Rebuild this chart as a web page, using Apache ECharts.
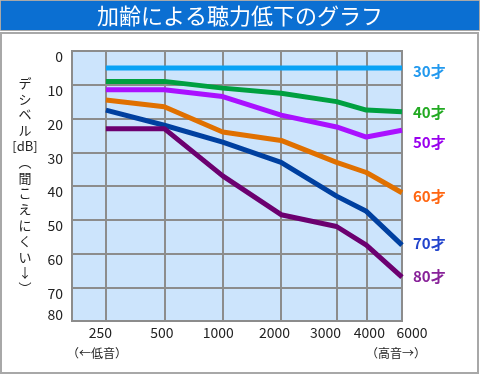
<!DOCTYPE html>
<html><head><meta charset="utf-8">
<script src="https://cdn.jsdelivr.net/npm/echarts@6/dist/echarts.min.js"></script>
<style>html,body{margin:0;padding:0;background:#fff}#c{width:480px;height:375px}</style>
</head><body><div id="c"></div>
<script>
// ---- data ----
const chartTitle = '加齢による聴力低下のグラフ';
const yAxisName = ['デ','シ','ベ','ル','[dB]','︵','聞','こ','え','に','く','い','↓','︶'];
const lowNote = '（←低音）';
const highNote = '（高音→）';
const freqLabels = ['250', '500', '1000', '2000', '3000', '4000', '6000'];
// the original axis is drawn with non-uniform spacing; these are axis units, one unit = one octave 250→2000
const freqAxisPos = [0, 1, 2, 3, 3.95, 4.46, 5.07];
const dbTicks = [0, 10, 20, 30, 40, 50, 60, 70, 80];
const ageNames = ['30才', '40才', '50才', '60才', '70才', '80才'];
const loss30 = [5, 5, 5, 5, 5, 5, 5];
const loss40 = [9, 9, 11, 12.5, 15, 17.5, 18];
const loss50 = [11.5, 11.5, 13.5, 19, 22.5, 25.5, 23.5];
const loss60 = [14.5, 16.5, 24, 26.5, 33, 36, 42];
const loss70 = [17.5, 22, 27, 33, 43, 47.5, 57.5];
const loss80 = [23, 23, 37, 48.5, 52, 57.5, 67];

// ---- styles ----
const FONT = '"Noto Sans CJK JP", "Noto Sans", sans-serif';
const lineColors = ['#0aa2f5', '#00a040', '#aa11ff', '#e07000', '#0040a0', '#6c0070'];
const labelColors = ['#2299ee', '#22aa22', '#9900ee', '#ff6611', '#2244cc', '#882299'];
const endLabelDy = [3, 1, 12, 4, -2, -1];
const xLabelPad = [[0,11,0,0],[0,5,0,0],[0,9,0,0],[0,13,0,0],[0,22,0,0],[0,0,0,6],[0,0,0,20]];

const seriesValues = [loss30, loss40, loss50, loss60, loss70, loss80];

const xRich = {};
xLabelPad.forEach((p, i) => { xRich['n' + i] = { padding: p, fontSize: 14, fontFamily: FONT, color: '#222' }; });

const series = seriesValues.map((vals, k) => ({
  name: ageNames[k],
  type: 'line',
  data: vals.map((v, i) => [freqAxisPos[i], v]),
  symbol: 'none',
  lineStyle: { width: 5, color: lineColors[k], cap: 'butt', join: 'round' },
  itemStyle: { color: lineColors[k] },
  silent: true,
  animation: false,
  endLabel: {
    show: true,
    formatter: '{a}',
    color: labelColors[k],
    fontSize: 15,
    fontWeight: 'bold',
    fontFamily: FONT,
    distance: 11,
    offset: [0, endLabelDy[k]]
  }
}));

const chart = echarts.init(document.getElementById('c'), null, { renderer: 'canvas' });
chart.setOption({
  animation: false,
  backgroundColor: '#ffffff',
  graphic: [
    { type: 'rect', z: -10, shape: { x: 1, y: 33, width: 477, height: 340 }, style: { fill: '#fff', stroke: '#a8a8a8', lineWidth: 2 } },
    { type: 'rect', z: -10, shape: { x: 0.5, y: 0.5, width: 479, height: 30 }, style: { fill: '#0b6fd2', stroke: '#a8a8a8', lineWidth: 1 } },
    { type: 'text', x: 240, y: 16, style: { text: chartTitle, fill: '#fff', fontSize: 22, fontFamily: FONT, align: 'center', verticalAlign: 'middle' } },
    { type: 'text', x: 25, y: 75, style: { text: yAxisName.join('\n'), fill: '#222', fontSize: 13, lineHeight: 15.8, fontFamily: FONT, align: 'center', verticalAlign: 'top' } },
    { type: 'text', x: 97, y: 353, style: { text: lowNote, fill: '#222', fontSize: 12, fontFamily: FONT, align: 'center', verticalAlign: 'middle' } },
    { type: 'text', x: 396, y: 353, style: { text: highNote, fill: '#222', fontSize: 12, fontFamily: FONT, align: 'center', verticalAlign: 'middle' } }
  ],
  grid: { left: 72, right: 78, top: 51, bottom: 54, show: true, backgroundColor: '#cce4fc', borderColor: '#8c8c8c', borderWidth: 2 },
  xAxis: {
    type: 'value',
    min: -0.58,
    max: freqAxisPos[freqAxisPos.length - 1],
    axisLine: { show: false },
    axisTick: { show: false, customValues: freqAxisPos },
    splitLine: { show: true, lineStyle: { color: '#8c8c8c', width: 2 } },
    axisLabel: {
      customValues: freqAxisPos,
      margin: 5,
      fontSize: 14,
      fontFamily: FONT,
      color: '#222',
      formatter: v => { const i = freqAxisPos.indexOf(v); return i < 0 ? '' : '{n' + i + '|' + freqLabels[i] + '}'; },
      rich: xRich
    }
  },
  yAxis: {
    type: 'value',
    inverse: true,
    min: dbTicks[0],
    max: dbTicks[dbTicks.length - 1],
    interval: 10,
    axisLine: { show: false },
    axisTick: { show: false },
    splitLine: { show: true, lineStyle: { color: '#8c8c8c', width: 2 } },
    axisLabel: {
      margin: 9,
      fontSize: 14,
      fontFamily: FONT,
      color: '#222',
      verticalAlign: 'middle',
      formatter: v => (v === dbTicks[dbTicks.length - 1] ? '{b|' + v + '}' : '{a|' + v + '}'),
      rich: {
        a: { padding: [12, 0, 0, 0], fontSize: 14, fontFamily: FONT, color: '#222' },
        b: { padding: [0, 0, 12, 0], fontSize: 14, fontFamily: FONT, color: '#222' }
      }
    }
  },
  series: series
});
</script>
</body></html>
